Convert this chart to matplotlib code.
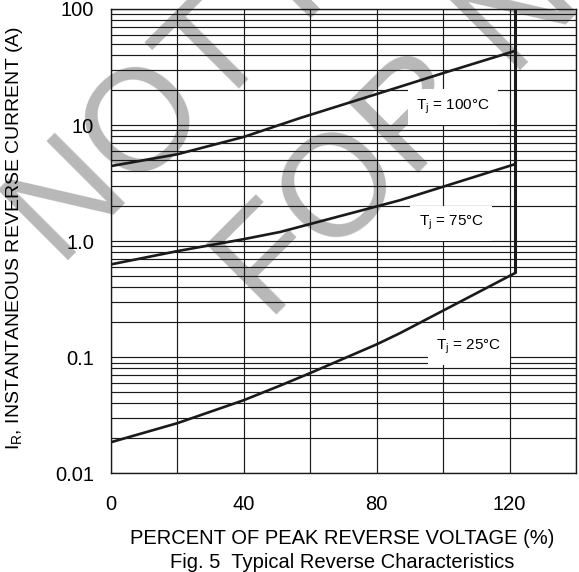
import matplotlib
matplotlib.use("Agg")
import matplotlib.pyplot as plt
from matplotlib.ticker import FixedLocator, MultipleLocator, LogLocator, NullFormatter

plt.rcParams['font.family'] = ['Liberation Sans', 'DejaVu Sans']
plt.rcParams['mathtext.fontset'] = 'custom'
plt.rcParams['mathtext.rm'] = 'Liberation Sans'
plt.rcParams['mathtext.it'] = 'Liberation Sans'
plt.rcParams['mathtext.default'] = 'regular'

# (percent of VRRM, amps)
x_100 = [0, 20, 40, 57, 80, 101, 121.6]
i_100 = [4.43, 5.6, 7.9, 11.5, 18.5, 28.6, 43.5]

x_75 = [0, 20, 40, 51, 87, 121.6]
i_75 = [0.63, 0.82, 1.04, 1.20, 2.25, 4.6]

x_25 = [0, 20, 40, 51, 60, 80, 87, 121.6]
i_25 = [0.0185, 0.027, 0.0426, 0.057, 0.073, 0.129, 0.161, 0.53]

v_limit = 121.6   # vertical limit line
x_ticks = [0, 40, 80, 120]
y_ticks = [0.01, 0.1, 1.0, 10, 100]
y_labels = ['0.01', '0.1', '1.0', '10', '100']

fig = plt.figure(figsize=(5.79, 5.72), dpi=100)
ax = fig.add_axes([110.7 / 579, 1 - 473.3 / 572, (576 - 110.7) / 579, (473.3 - 9) / 572])
ax.set_facecolor('none')

# watermark behind everything
wm = dict(fontsize=104, color='#b8b8b8', rotation=45, rotation_mode='anchor',
          ha='left', va='baseline', zorder=-1)
fig.text(60 / 579, 1 - 268 / 572, 'NOT RECOMMENDED', **wm)
fig.text(268 / 579, 1 - 322 / 572, 'FOR NEW DESIGN', **wm)

ax.set_yscale('log')
ax.set_xlim(0, 140)
ax.set_ylim(0.01, 100)

ax.xaxis.set_major_locator(FixedLocator(x_ticks))
ax.xaxis.set_minor_locator(MultipleLocator(20))
ax.yaxis.set_major_locator(FixedLocator(y_ticks))
ax.set_yticklabels(y_labels)
ax.yaxis.set_minor_locator(LogLocator(base=10, subs=range(2, 10)))
ax.yaxis.set_minor_formatter(NullFormatter())

ax.set_axisbelow(True)
ax.grid(True, which='both', color='#1a1a1a', linewidth=0.85)
ax.tick_params(axis='both', which='both', length=0, labelsize=14.5)
ax.tick_params(axis='x', pad=15.5)
ax.tick_params(axis='y', pad=12)
for s in ax.spines.values():
    s.set_color('#1a1a1a')
    s.set_linewidth(1.0)

lc = '#1a1a1a'
ax.plot(x_100, i_100, color=lc, lw=1.9, zorder=5)
ax.plot(x_75, i_75, color=lc, lw=1.9, zorder=5)
ax.plot(x_25, i_25, color=lc, lw=1.9, zorder=5)
ax.vlines(v_limit, i_25[-1], 100, color=lc, lw=2.2, zorder=5)

box = dict(facecolor='white', edgecolor='none', pad=6)
ax.text(103, 14.3, 'T$_j$ = 100°C', fontsize=11, ha='center', va='center', bbox=box, zorder=4)
ax.text(102.5, 1.43, 'T$_j$ = 75°C', fontsize=11, ha='center', va='center', bbox=box, zorder=4)
ax.text(107.7, 0.122, 'T$_j$ = 25°C', fontsize=11, ha='center', va='center', bbox=box, zorder=4)

fig.text(15 / 579, 1 - 238 / 572, 'I$_R$, INSTANTANEOUS REVERSE CURRENT (A)',
         fontsize=14, rotation=90, ha='center', va='center')
fig.text(342 / 579, 1 - 538 / 572, 'PERCENT OF PEAK REVERSE VOLTAGE (%)',
         fontsize=14.5, ha='center', va='center')
fig.text(342 / 579, 1 - 562 / 572, 'Fig. 5  Typical Reverse Characteristics',
         fontsize=14.5, ha='center', va='center')

fig.savefig('out.png', dpi=100)
